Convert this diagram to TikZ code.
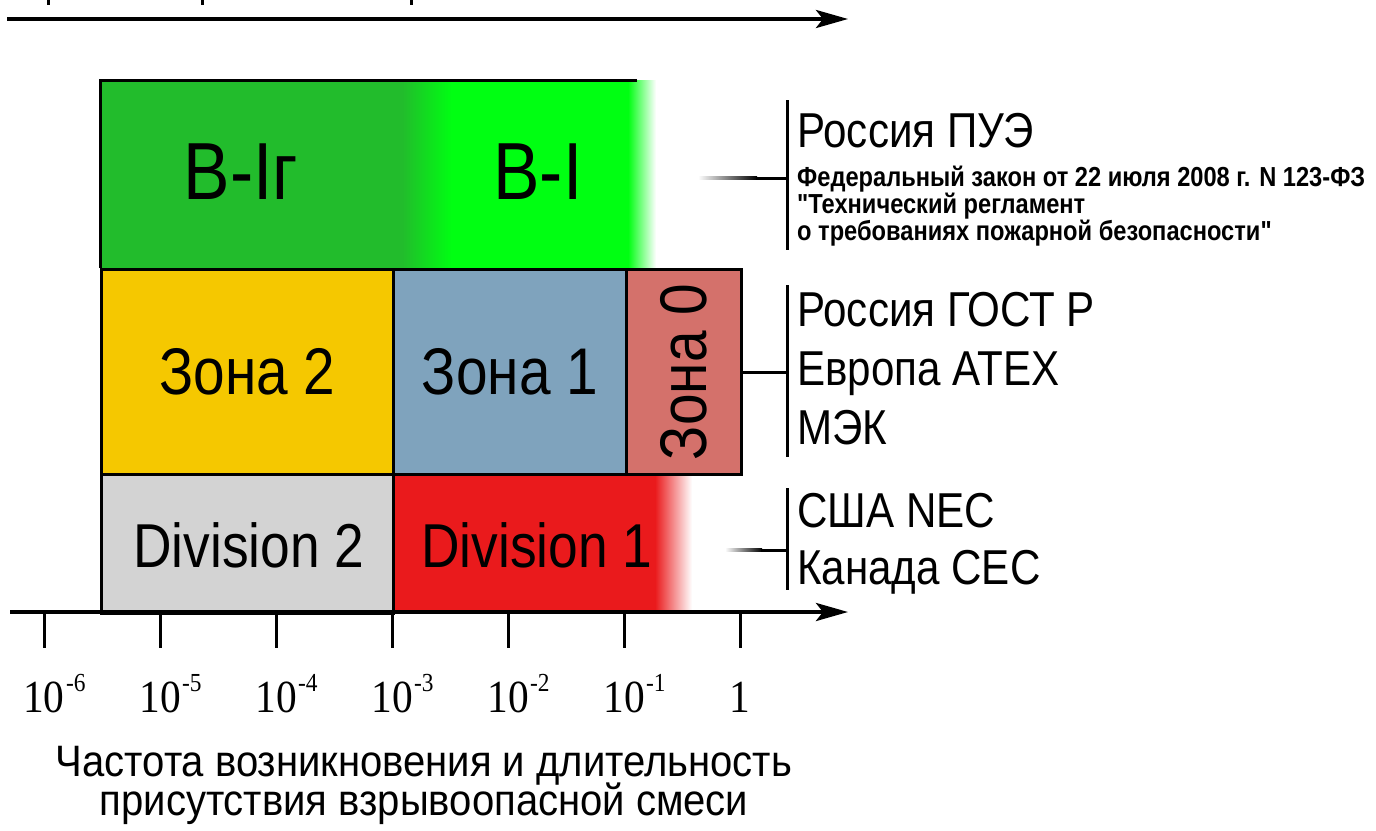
\documentclass[tikz,border=0pt]{standalone}
\usepackage{fontspec}
\setmainfont{Liberation Sans}
\newfontfamily\narrowsans[FakeStretch=0.86]{Liberation Sans}
\newfontfamily\captionsans[FakeStretch=0.91]{Liberation Sans}
\newfontfamily\numfont[FakeStretch=0.9]{Liberation Serif}
\usetikzlibrary{arrows.meta}

\definecolor{darkgreen}{RGB}{34,188,44}
\definecolor{brightgreen}{RGB}{0,255,18}
\definecolor{zonetwo}{RGB}{245,200,0}
\definecolor{zoneone}{RGB}{127,163,189}
\definecolor{zonezero}{RGB}{212,113,107}
\definecolor{divtwo}{RGB}{211,211,211}
\definecolor{divone}{RGB}{234,26,28}
\definecolor{fadepink}{RGB}{228,150,155}

\begin{document}
\begin{tikzpicture}[x=1pt,y=-1pt,
  edge/.style={line width=3pt},
  axis/.style={line width=4pt, -{Stealth[length=32pt,width=18pt,inset=7pt]}},
  tickmark/.style={line width=3pt},
  zonebox/.style={draw=black, line width=3pt, anchor=north west, inner sep=0pt,
    font=\narrowsans\fontsize{66}{66}\selectfont},
  divlabel/.style={inner sep=0pt, font=\narrowsans\fontsize{62}{62}\selectfont},
  classlabel/.style={inner sep=0pt, font=\narrowsans\fontsize{81}{81}\selectfont},
  stdlabel/.style={anchor=base west, inner sep=0pt, font=\narrowsans\fontsize{49}{49}\selectfont},
  lawlabel/.style={anchor=base west, inner sep=0pt, font=\narrowsans\fontsize{27.5}{27.5}\selectfont\bfseries},
  ticklabel/.style={anchor=base, inner sep=0pt, font=\numfont\fontsize{46}{46}\selectfont},
  explabel/.style={anchor=north west, inner sep=0pt, font=\numfont\fontsize{26}{26}\selectfont},
  caption/.style={anchor=north, inner sep=0pt, align=center,
    font=\captionsans\fontsize{44}{34}\selectfont}
]
\useasboundingbox (0,0) rectangle (1376,830);

% --- top axis (partly cut off) ---
\coordinate (ta0) at (7,19);
\coordinate (ta1) at (848,19);
\foreach \x in {48,202,411} \draw[line width=3pt] (\x,0) -- (\x,5);
\draw[axis] (ta0) -- (ta1);

% --- B-I row with soft edges ---
\fill[darkgreen] (100,80) rectangle (402,268);
\shade[left color=darkgreen, right color=brightgreen] (402,80) rectangle (452,268);
\fill[brightgreen] (452,80) rectangle (628,268);
\shade[left color=brightgreen, right color=white] (628,80) rectangle (656,268);
\draw[edge] (100,268) |- (637,80);
\node[classlabel] (big) at (241,172) {В-Iг};
\node[classlabel] (bi) at (538,172) {В-I};

% --- Division row with soft right edge ---
\fill[divone] (392,473) rectangle (655,612);
\shade[left color=divone, middle color=fadepink, right color=white] (655,473) rectangle (692,612);
\node[zonebox, fill=divtwo, minimum width=292pt, minimum height=139pt] (div2) at (100,473) {};
\node[divlabel] (div2text) at (249,545) {Division 2};
\node[divlabel] (div1) at (537,545) {Division 1};

% --- Zone row ---
\node[zonebox, fill=zonetwo, minimum width=292pt, minimum height=205pt] (z2) at (100,268) {Зона 2};
\node[zonebox, fill=zoneone, minimum width=233pt, minimum height=205pt] (z1) at (392,268) {Зона 1};
\node[zonebox, fill=zonezero, minimum width=115pt, minimum height=205pt] (z0) at (625,268) {\rotatebox{90}{Зона 0}};

% --- bottom axis ---
\coordinate (ba0) at (10,612);
\coordinate (ba1) at (848,612);
\draw[axis] (ba0) -- (ba1);
\foreach \i/\x in {6/44,5/160,4/276,3/392,2/508,1/624} {
  \draw[tickmark] (\x,612) -- (\x,648);
  \node[ticklabel] (t\i) at (\x,712) {10};
  \node[explabel] at ([xshift=1pt,yshift=7pt]t\i.north east) {-\i};
}
\draw[tickmark] (740,612) -- (740,648);
\node[ticklabel] (t0) at (740,712) {1};

% --- standards: brackets and leaders ---
\coordinate (b1t) at (787,100);
\coordinate (b1b) at (787,250);
\coordinate (b1m) at (787,178);
\coordinate (l1) at (698,178);
\draw[edge] (b1t) -- (b1b);
\shade[left color=white, right color=black] ([yshift=-1.5pt]l1) rectangle ([yshift=1.5pt,xshift=-30pt]b1m);
\draw[edge] ([xshift=-31pt]b1m) -- (b1m);

\coordinate (b2t) at (787,285);
\coordinate (b2b) at (787,457);
\draw[edge] (b2t) -- (b2b);
\draw[edge] (z0.east) -- (z0.east -| b2t);

\coordinate (b3t) at (787,488);
\coordinate (b3b) at (787,590);
\coordinate (b3m) at (787,550);
\coordinate (l3) at (725,550);
\draw[edge] (b3t) -- (b3b);
\shade[left color=white, right color=black] ([yshift=-1.5pt]l3) rectangle ([yshift=1.5pt,xshift=-25pt]b3m);
\draw[edge] ([xshift=-26pt]b3m) -- (b3m);

\node[stdlabel] (pue) at (797,147) {Россия ПУЭ};
\node[lawlabel] (law1) at (797,186) {Федеральный закон от 22 июля 2008 г. N 123-ФЗ};
\node[lawlabel] (law2) at (797,213) {\symbol{34}Технический регламент};
\node[lawlabel] (law3) at (797,240) {о требованиях пожарной безопасности\symbol{34}};

\node[stdlabel] (gost) at (797,326) {Россия ГОСТ Р};
\node[stdlabel] (atex) at (797,385) {Европа ATEX};
\node[stdlabel] (iec) at (797,444) {МЭК};

\node[stdlabel] (nec) at (797,527) {США NEC};
\node[stdlabel] (cec) at (797,584) {Канада CEC};

% --- axis caption ---
\node[caption] (cap) at (424,746) {Частота возникновения и длительность\\[-3.7pt]присутствия взрывоопасной смеси};
\end{tikzpicture}
\end{document}
